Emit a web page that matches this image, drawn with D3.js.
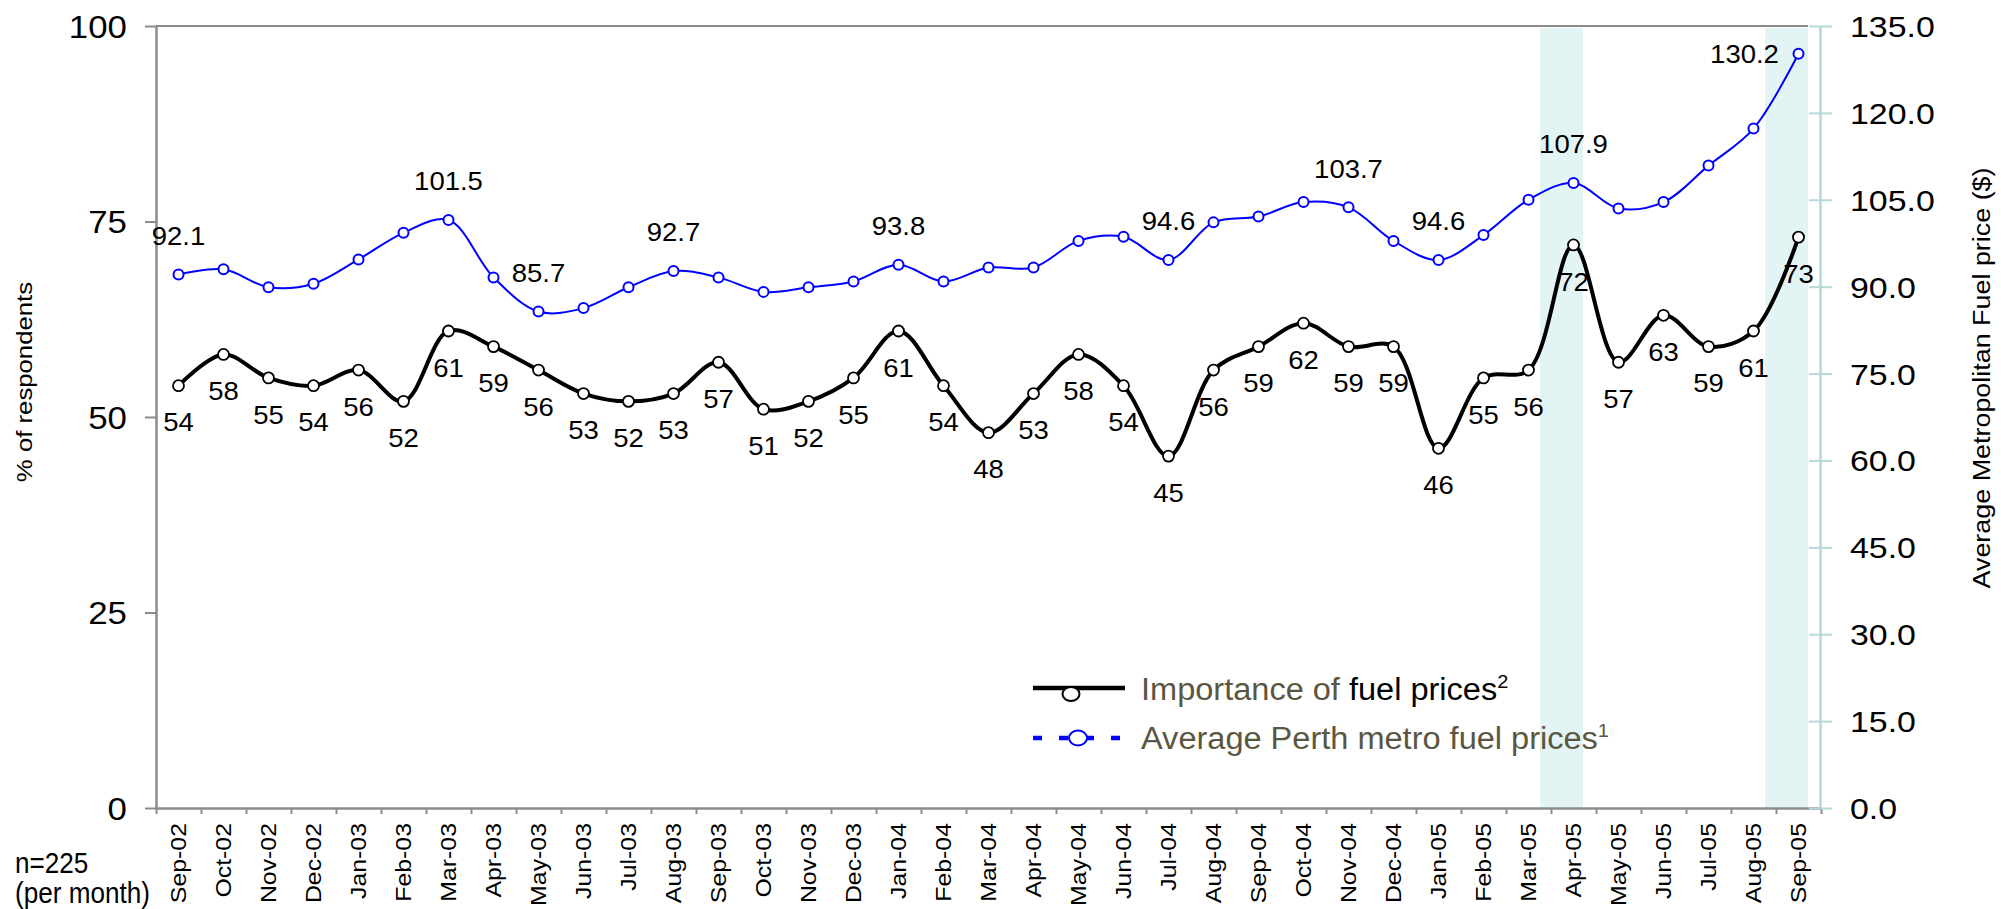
<!DOCTYPE html>
<html>
<head>
<meta charset="utf-8">
<script src="https://cdn.jsdelivr.net/npm/d3@7"></script>
<style>
body { margin: 0; background: #fff; }
text { font-family: "Liberation Sans", Arial, sans-serif; }
</style>
</head>
<body>
<div id="chart"></div>
<script>
var width = 2001;
var height = 909;

// months on the category axis
var months = ["Sep-02","Oct-02","Nov-02","Dec-02","Jan-03","Feb-03","Mar-03","Apr-03","May-03","Jun-03",
    "Jul-03","Aug-03","Sep-03","Oct-03","Nov-03","Dec-03","Jan-04","Feb-04","Mar-04","Apr-04",
    "May-04","Jun-04","Jul-04","Aug-04","Sep-04","Oct-04","Nov-04","Dec-04","Jan-05","Feb-05",
    "Mar-05","Apr-05","May-05","Jun-05","Jul-05","Aug-05","Sep-05"];

// % of respondents rating fuel prices important
var importance = [54,58,55,54,56,52,61,59,56,53,52,53,57,51,52,55,61,54,48,53,58,54,45,56,59,62,59,59,46,55,56,72,57,63,59,61,73];

// average Perth metro fuel price (cents)
var fuelPrice = [92.1,93.0,89.9,90.5,94.7,99.3,101.5,91.6,85.7,86.3,89.9,92.7,91.6,89.1,89.9,90.9,93.8,90.9,93.3,93.3,
    97.9,98.6,94.6,101.1,102.1,104.6,103.7,97.9,94.6,98.9,105.0,107.9,103.5,104.6,110.9,117.3,130.2];

// which price points carry a value label
var priceLabelIdx = [0,6,8,11,16,22,26,28,31,36];

var leftTicks = [0,25,50,75,100];
var rightTicks = [0,15,30,45,60,75,90,105,120,135];
var highlighted = ["Apr-05","Sep-05"];

var axisGrey = "#8c8c8c";
var axisBlue = "#b5d8dc";
var olive = "#5b5642";

var svg = d3.select("#chart")
    .append("svg")
    .attr("width", width)
    .attr("height", height);

var x = d3.scaleBand().domain(months).range([156, 1821]);
var xi = d3.scaleLinear().domain([0, months.length]).range([156, 1821]);
var yL = d3.scaleLinear().domain([0, 100]).range([808, 26]);
var yR = d3.scaleLinear().domain([0, 135]).range([808, 26]);

function cx(i){ return x(months[i]) + x.bandwidth() / 2; }

// shaded months
svg.append("g")
    .selectAll("rect")
    .data(highlighted)
    .enter()
        .append("rect")
        .attr("x", function(d){ return x(d) - 11; })
        .attr("y", 28)
        .attr("width", x.bandwidth() - 2)
        .attr("height", yL(0) - 28)
        .attr("fill", "#e3f4f4");

// top border of the plot
svg.append("line")
    .attr("x1", 156).attr("x2", 1808)
    .attr("y1", yL(100)).attr("y2", yL(100))
    .attr("stroke", axisGrey)
    .attr("stroke-width", 2);

// left axis
var gl = svg.append("g")
    .attr("transform", "translate(156,0)")
    .call(d3.axisLeft(yL).tickValues(leftTicks).tickSize(11).tickSizeOuter(0));
gl.select(".domain").attr("stroke", axisGrey).attr("stroke-width", 2.5);
gl.selectAll(".tick line").attr("stroke", axisGrey).attr("stroke-width", 2);
gl.selectAll(".tick text")
    .attr("x", 0)
    .attr("dy", "0.35em")
    .attr("transform", "translate(-29,0) scale(1.09,1)")
    .attr("font-size", 32)
    .attr("fill", "#000");

// category axis (ticks between months)
var gx = svg.append("g")
    .attr("transform", "translate(0," + yL(0) + ")")
    .call(d3.axisBottom(xi).tickValues(d3.range(months.length + 1)).tickSize(6).tickSizeOuter(0).tickFormat(""));
gx.select(".domain").attr("stroke", axisGrey).attr("stroke-width", 2.5);
gx.selectAll(".tick line").attr("stroke", axisGrey).attr("stroke-width", 2);

svg.append("g")
    .selectAll("g")
    .data(months)
    .enter()
        .append("g")
        .attr("transform", function(d,i){ return "translate(" + cx(i) + ",823) rotate(-90)"; })
        .append("text")
        .attr("text-anchor", "end")
        .attr("dy", "0.35em")
        .attr("transform", "scale(1.13,1)")
        .attr("font-size", 22)
        .text(function(d){ return d; });

// right axis
var gr = svg.append("g")
    .attr("transform", "translate(1820,0)")
    .call(d3.axisRight(yR).tickValues(rightTicks).tickSize(12).tickSizeOuter(0).tickFormat(d3.format(".1f")));
gr.select(".domain").attr("stroke", axisBlue).attr("stroke-width", 2.5);
gr.selectAll(".tick line").attr("x1", -11).attr("stroke", axisBlue).attr("stroke-width", 2);
gr.selectAll(".tick text")
    .attr("x", 0)
    .attr("dy", "0.35em")
    .attr("transform", "translate(30,0) scale(1.13,1)")
    .attr("font-size", 30)
    .attr("fill", "#000");

// axis titles
svg.append("g")
    .attr("transform", "translate(24,382) rotate(-90)")
    .append("text")
    .attr("text-anchor", "middle")
    .attr("dy", "0.35em")
    .attr("transform", "scale(1.17,1)")
    .attr("font-size", 22)
    .text("% of respondents");

svg.append("g")
    .attr("transform", "translate(1982,378) rotate(-90)")
    .append("text")
    .attr("text-anchor", "middle")
    .attr("dy", "0.35em")
    .attr("transform", "scale(1.17,1)")
    .attr("font-size", 23)
    .text("Average Metropolitan Fuel price ($)");

// sample size note
var note = svg.append("g").attr("transform", "translate(15,0)");
note.append("text").attr("y", 873).attr("transform", "scale(0.9,1)").attr("font-size", 29).text("n=225");
note.append("text").attr("y", 903).attr("transform", "scale(0.9,1)").attr("font-size", 29).text("(per month)");

// lines
var priceLine = d3.line()
    .x(function(d,i){ return cx(i); })
    .y(function(d){ return yR(d); })
    .curve(d3.curveCatmullRom.alpha(0.5));

var impLine = d3.line()
    .x(function(d,i){ return cx(i); })
    .y(function(d){ return yL(d); })
    .curve(d3.curveCatmullRom.alpha(0.5));

svg.append("path")
    .datum(fuelPrice)
    .attr("d", priceLine)
    .attr("fill", "none")
    .attr("stroke", "#0000ff")
    .attr("stroke-width", 2);

svg.append("path")
    .datum(importance)
    .attr("d", impLine)
    .attr("fill", "none")
    .attr("stroke", "#000")
    .attr("stroke-width", 4);

svg.append("g")
    .selectAll("circle")
    .data(fuelPrice)
    .enter()
        .append("circle")
        .attr("cx", function(d,i){ return cx(i); })
        .attr("cy", function(d){ return yR(d); })
        .attr("r", 5)
        .attr("fill", "#fff")
        .attr("stroke", "#0000ff")
        .attr("stroke-width", 2);

svg.append("g")
    .selectAll("circle")
    .data(importance)
    .enter()
        .append("circle")
        .attr("cx", function(d,i){ return cx(i); })
        .attr("cy", function(d){ return yL(d); })
        .attr("r", 5.5)
        .attr("fill", "#fff")
        .attr("stroke", "#000")
        .attr("stroke-width", 1.8);

// value labels for importance, under each point
svg.append("g")
    .selectAll("g")
    .data(importance)
    .enter()
        .append("g")
        .attr("transform", function(d,i){ return "translate(" + cx(i) + "," + (yL(d) + 37) + ")"; })
        .append("text")
        .attr("text-anchor", "middle")
        .attr("dy", "0.35em")
        .attr("transform", "scale(1.1,1)")
        .attr("font-size", 25)
        .text(function(d){ return d; });

// value labels for price, above selected points (last one sits to the left)
svg.append("g")
    .selectAll("g")
    .data(priceLabelIdx)
    .enter()
        .append("g")
        .attr("transform", function(i){
            var last = i == fuelPrice.length - 1;
            var lx = last ? cx(i) - 54 : cx(i);
            var ly = last ? yR(fuelPrice[i]) : yR(fuelPrice[i]) - 38.5;
            return "translate(" + lx + "," + ly + ")";
        })
        .append("text")
        .attr("text-anchor", "middle")
        .attr("dy", "0.35em")
        .attr("transform", "scale(1.1,1)")
        .attr("font-size", 25)
        .text(function(i){ return fuelPrice[i].toFixed(1); });

// legend
var lg = svg.append("g").attr("id", "legend");

lg.append("line")
    .attr("x1", 1033).attr("x2", 1125)
    .attr("y1", 688).attr("y2", 688)
    .attr("stroke", "#000").attr("stroke-width", 4.5);
lg.append("ellipse")
    .attr("cx", 1071).attr("cy", 694).attr("rx", 8.5).attr("ry", 7)
    .attr("fill", "#fff").attr("stroke", "#000").attr("stroke-width", 2);

lg.append("line")
    .attr("x1", 1033).attr("x2", 1121)
    .attr("y1", 738).attr("y2", 738)
    .attr("stroke", "#0000ff").attr("stroke-width", 4.5)
    .attr("stroke-dasharray", "9,17");
lg.append("ellipse")
    .attr("cx", 1078).attr("cy", 738).attr("rx", 9).attr("ry", 7.5)
    .attr("fill", "#fff").attr("stroke", "#0000ff").attr("stroke-width", 2);

var t1 = lg.append("g").attr("transform", "translate(1141,700)")
    .append("text")
    .attr("transform", "scale(1.05,1)")
    .attr("font-size", 31);
t1.append("tspan").attr("fill", olive).text("Importance of ");
t1.append("tspan").attr("fill", "#000").text("fuel prices");
t1.append("tspan").attr("fill", "#000").attr("font-size", 19).attr("dy", -12).text("2");

var t2 = lg.append("g").attr("transform", "translate(1141,749)")
    .append("text")
    .attr("transform", "scale(1.05,1)")
    .attr("font-size", 31);
t2.append("tspan").attr("fill", olive).text("Average Perth metro fuel prices");
t2.append("tspan").attr("fill", olive).attr("font-size", 19).attr("dy", -12).text("1");
</script>
</body>
</html>
